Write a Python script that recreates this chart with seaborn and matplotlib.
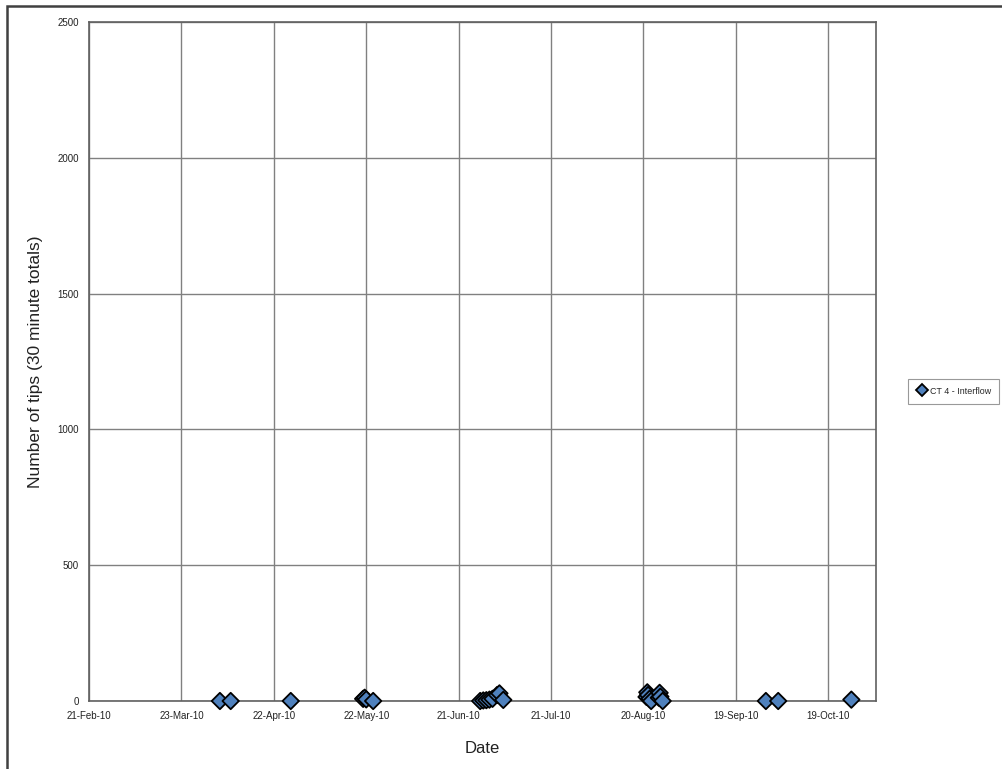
import matplotlib
matplotlib.use("Agg")
import matplotlib.pyplot as plt
import matplotlib.dates as mdates
import seaborn as sns
import pandas as pd
import numpy as np
from matplotlib.patches import Rectangle

# ---- data ----
timestamps = [
    "2010-04-04 12:00", "2010-04-08 00:00", "2010-04-27 12:00",
    "2010-05-21 00:00", "2010-05-21 12:00", "2010-05-22 00:00", "2010-05-24 06:00",
    "2010-06-28 00:00", "2010-06-29 00:00", "2010-06-30 00:00", "2010-07-01 00:00",
    "2010-07-02 00:00", "2010-07-03 12:00", "2010-07-04 06:00", "2010-07-05 12:00",
    "2010-08-21 00:00", "2010-08-21 06:00", "2010-08-21 12:00", "2010-08-22 00:00",
    "2010-08-22 12:00",
    "2010-08-25 00:00", "2010-08-25 06:00", "2010-08-25 12:00", "2010-08-26 06:00",
    "2010-09-28 18:00", "2010-10-02 18:00", "2010-10-26 12:00",
]
tips = [
    0, 0, 0,
    8, 12, 6, 0,
    0, 2, 3, 5,
    8, 22, 28, 4,
    15, 32, 22, 8,
    0,
    12, 30, 16, 0,
    0, 0, 5,
]
series_name = "CT 4 - Interflow"
x_ticks = ["2010-02-21", "2010-03-23", "2010-04-22", "2010-05-22", "2010-06-21",
           "2010-07-21", "2010-08-20", "2010-09-19", "2010-10-19"]
y_ticks = [0, 500, 1000, 1500, 2000, 2500]

df = pd.DataFrame({"Date": pd.to_datetime(timestamps), "Tips": tips, "Series": series_name})

sns.set_style("white")
plt.rcParams["font.family"] = ["Liberation Sans", "DejaVu Sans"]

fig = plt.figure(figsize=(10.03, 7.69), dpi=100)
ax = fig.add_axes([89/1003, 1-701/769, (876-89)/1003, (701-22)/769])

sns.scatterplot(data=df, x="Date", y="Tips", hue="Series", palette=["#4f81bd"],
                marker="D", s=70, edgecolor="black", linewidth=1.3, ax=ax, zorder=5,
                clip_on=False)

ax.set_xlim(pd.Timestamp("2010-02-21"), pd.Timestamp("2010-11-03 12:00"))
ax.set_ylim(0, 2500)
ax.set_xticks(pd.to_datetime(x_ticks))
ax.xaxis.set_major_formatter(mdates.DateFormatter("%d-%b-%y"))
ax.set_yticks(y_ticks)
ax.grid(True, color="#808080", linewidth=1.0)
ax.set_axisbelow(True)
for sp in ax.spines.values():
    sp.set_color("#606060")
    sp.set_linewidth(1.2)
    sp.set_visible(True)
ax.tick_params(axis="both", which="major", direction="out", length=4, width=1,
               color="#606060", labelsize=7, labelcolor="#222222")
ax.set_xlabel("Date", fontsize=12, labelpad=14, color="#222222")
ax.set_ylabel("Number of tips (30 minute totals)", fontsize=12.5, labelpad=10, color="#222222")

leg = ax.legend(loc="center left", bbox_to_anchor=(906/1003, 1-391/769),
                bbox_transform=fig.transFigure, fontsize=6.4, frameon=True,
                fancybox=False, edgecolor="#808080", handletextpad=0.3,
                handlelength=1.3, borderpad=0.9, borderaxespad=0.2,
                markerscale=0.75)
leg.get_frame().set_linewidth(0.8)

fig.patches.append(Rectangle((7/1003, -0.05), 1.1, 1 - 6/769 + 0.05,
                             transform=fig.transFigure, fill=False,
                             edgecolor="#404040", linewidth=1.8))

fig.savefig("out.png", dpi=100)
